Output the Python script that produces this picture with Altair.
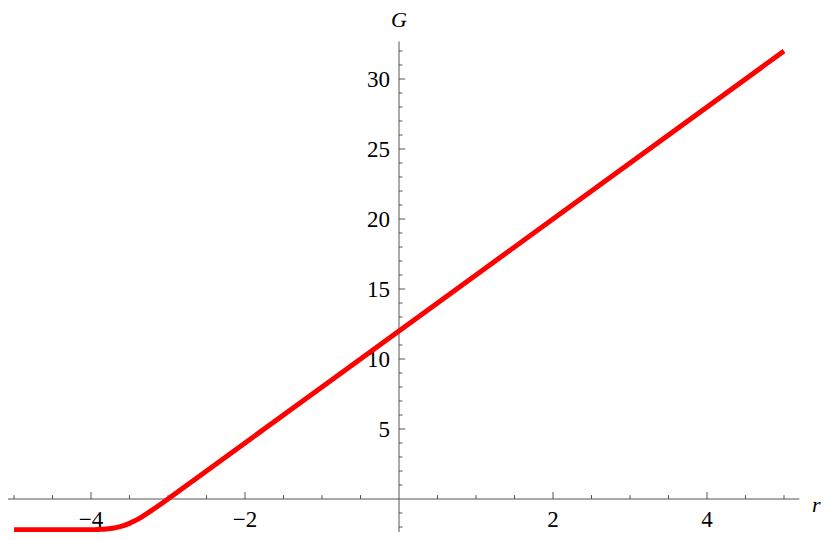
import altair as alt
import pandas as pd

# curve
r_vals = [-5.0, -4.5, -4.2, -4.0, -3.9, -3.8, -3.7, -3.65, -3.6, -3.55, -3.5, -3.45, -3.4, -3.35, -3.3,
          -3.25, -3.2, -3.1, -3.0, -2.8, -2.5, -2.0, 0.0, 2.0, 5.0]
g_vals = [-2.2, -2.2, -2.2, -2.19, -2.17, -2.14, -2.07, -2.01, -1.94, -1.85, -1.74, -1.61, -1.47, -1.31, -1.14,
          -0.96, -0.77, -0.39, 0.0, 0.8, 2.0, 4.0, 12.0, 20.0, 32.0]

# axis ticks
x_major = [-4, -2, 2, 4]
x_major_labels = ["\u22124", "\u22122", "2", "4"]
x_minor = [-5, -4.5, -3.5, -3, -2.5, -1.5, -1, -0.5, 0.5, 1, 1.5, 2.5, 3, 3.5, 4.5, 5]
y_major = [5, 10, 15, 20, 25, 30]
y_major_labels = ["5", "10", "15", "20", "25", "30"]
y_minor = [v for v in range(-2, 33) if v % 5 != 0]

x_axis_range = [-5.2, 5.2]
y_axis_range = [-2.88, 32.68]

W, H = 814, 524
xdom = [-391 / 77, 423 / 77]
ydom = [-33 / 14, 491 / 14]
xs = alt.Scale(domain=xdom, nice=False, zero=False)
ys = alt.Scale(domain=ydom, nice=False, zero=False)

AX = "#555555"
FONT = "Liberation Serif"

def X(f):
    return alt.X(f, type="quantitative", scale=xs, axis=None)

def Y(f):
    return alt.Y(f, type="quantitative", scale=ys, axis=None)

curve_df = pd.DataFrame({"r": r_vals, "G": g_vals})

xaxis = alt.Chart(pd.DataFrame({"a": [x_axis_range[0]], "b": [x_axis_range[1]], "y": [0]})).mark_rule(
    color=AX, strokeWidth=1).encode(x=X("a"), x2="b", y=Y("y"))
yaxis = alt.Chart(pd.DataFrame({"a": [y_axis_range[0]], "b": [y_axis_range[1]], "x": [0]})).mark_rule(
    color=AX, strokeWidth=1).encode(y=Y("a"), y2="b", x=X("x"))

xmaj_df = pd.DataFrame({"x": x_major, "y0": [0] * len(x_major), "y1": [0.5] * len(x_major), "lab": x_major_labels})
xmin_df = pd.DataFrame({"x": x_minor, "y0": [0] * len(x_minor), "y1": [0.28] * len(x_minor)})
ymaj_df = pd.DataFrame({"y": y_major, "x0": [0] * len(y_major), "x1": [0.08] * len(y_major), "lab": y_major_labels})
ymin_df = pd.DataFrame({"y": y_minor, "x0": [0] * len(y_minor), "x1": [0.045] * len(y_minor)})

xmaj = alt.Chart(xmaj_df).mark_rule(color=AX, strokeWidth=1).encode(x=X("x"), y=Y("y0"), y2="y1")
xmin = alt.Chart(xmin_df).mark_rule(color=AX, strokeWidth=1).encode(x=X("x"), y=Y("y0"), y2="y1")
ymaj = alt.Chart(ymaj_df).mark_rule(color=AX, strokeWidth=1).encode(y=Y("y"), x=X("x0"), x2="x1")
ymin = alt.Chart(ymin_df).mark_rule(color=AX, strokeWidth=1).encode(y=Y("y"), x=X("x0"), x2="x1")

xlab = alt.Chart(xmaj_df).mark_text(font=FONT, fontSize=23, align="center", baseline="middle", dy=21,
                                    color="#000000").encode(x=X("x"), y=Y("y0"), text="lab:N")
ylab = alt.Chart(ymaj_df).mark_text(font=FONT, fontSize=23, align="right", baseline="middle", dx=-9, dy=1,
                                    color="#000000").encode(x=X("x0"), y=Y("y"), text="lab:N")

titles_df = pd.DataFrame({"x": [0.0, 5.42], "y": [34.25, -0.4], "t": ["G", "r"]})
titles = alt.Chart(titles_df).mark_text(font=FONT, fontSize=22, fontStyle="italic", align="center",
                                        baseline="middle", color="#000000").encode(x=X("x"), y=Y("y"), text="t:N")

line = alt.Chart(curve_df).mark_line(color="#ff0000", strokeWidth=5, strokeCap="butt",
                                     interpolate="monotone").encode(x=X("r"), y=Y("G"))

chart = alt.layer(xaxis, yaxis, xmin, xmaj, ymin, ymaj, xlab, ylab, titles, line).properties(
    width=W, height=H, padding=0, autosize=alt.AutoSizeParams(type="none"), background="white"
).configure_view(stroke=None)

chart.save("out.html", embed_options={"renderer": "svg", "actions": False})
